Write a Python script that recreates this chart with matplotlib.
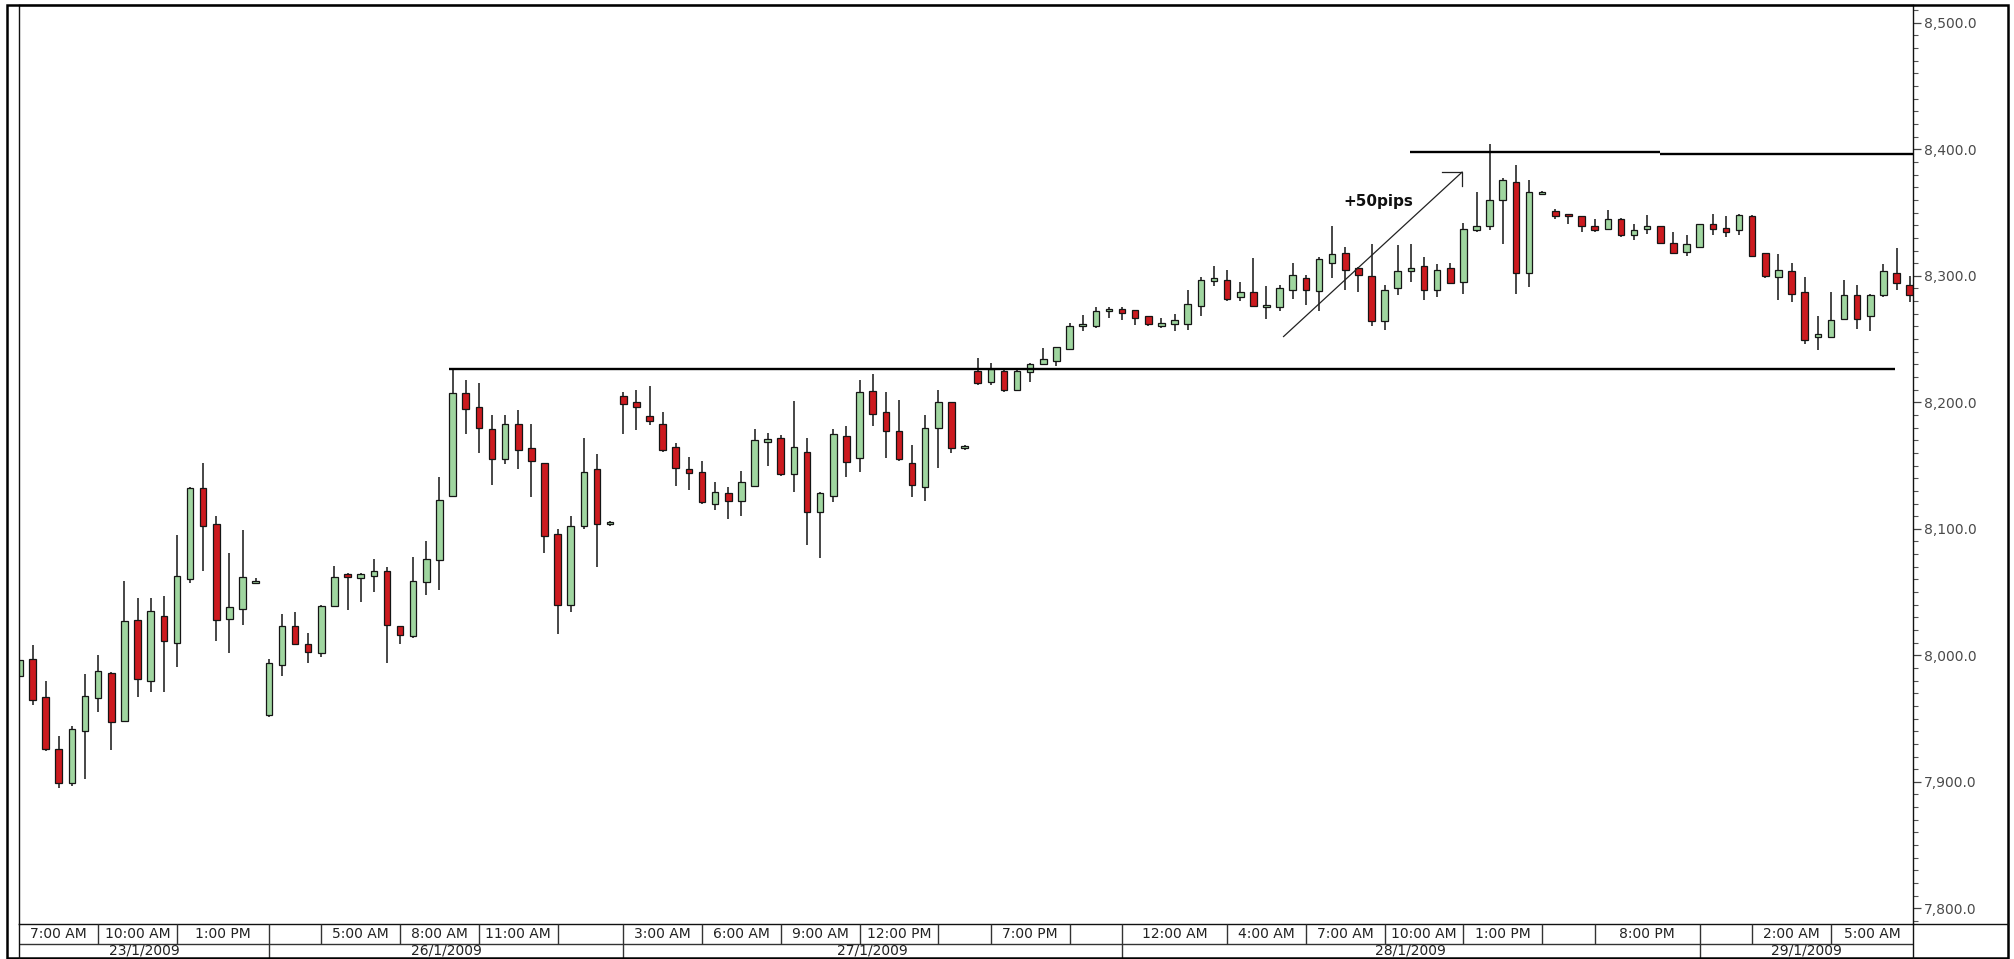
import matplotlib
matplotlib.use("Agg")
import matplotlib.pyplot as plt
from matplotlib.lines import Line2D
from matplotlib.patches import Rectangle
from matplotlib.ticker import MultipleLocator, FuncFormatter

# ---------------- data (30-minute candles) ----------------
opens = [7984, 7997, 7967, 7926, 7899, 7940, 7966, 7986, 7948, 8028,
         7980, 8031, 8010, 8060, 8132, 8104, 8029, 8037, 8057, 7953,
         7992, 8023, 8009, 8002, 8039, 8064, 8061, 8063, 8067, 8023,
         8015, 8058, 8075, 8126, 8207, 8196, 8179, 8155, 8183, 8164,
         8152, 8096, 8040, 8102, 8147, 8104, 8205, 8200, 8189, 8183,
         8165, 8147, 8145, 8120, 8128, 8122, 8134, 8169, 8172, 8143,
         8161, 8113, 8126, 8173, 8156, 8209, 8192, 8177, 8152, 8133,
         8180, 8200, 8164, 8225, 8216, 8225, 8210, 8224, 8230, 8233,
         8242, 8260, 8260, 8272, 8274, 8273, 8268, 8260, 8262, 8262,
         8276, 8296, 8297, 8283, 8287, 8275, 8275, 8289, 8298, 8288,
         8310, 8318, 8306, 8300, 8264, 8290, 8304, 8308, 8289, 8306,
         8295, 8336, 8339, 8360, 8374, 8302, 8365, 8351, 8348, 8347,
         8339, 8337, 8345, 8332, 8337, 8339, 8326, 8319, 8323, 8341,
         8338, 8336, 8347, 8318, 8299, 8304, 8287, 8252, 8252, 8266,
         8285, 8268, 8285, 8302, 8293]
highs = [8008, 8008, 7980, 7936, 7944, 7985, 8000, 7987, 8059, 8045,
         8045, 8047, 8095, 8133, 8152, 8110, 8081, 8099, 8061, 7997,
         8033, 8034, 8018, 8040, 8071, 8065, 8065, 8076, 8070, 8023,
         8078, 8090, 8141, 8227, 8218, 8215, 8190, 8190, 8194, 8183,
         8152, 8100, 8110, 8172, 8159, 8106, 8208, 8210, 8213, 8192,
         8168, 8157, 8154, 8137, 8133, 8146, 8179, 8176, 8174, 8201,
         8172, 8129, 8179, 8181, 8218, 8222, 8208, 8202, 8166, 8190,
         8210, 8200, 8166, 8235, 8231, 8226, 8226, 8231, 8243, 8244,
         8263, 8269, 8275, 8275, 8275, 8273, 8268, 8267, 8270, 8289,
         8299, 8308, 8305, 8295, 8314, 8292, 8293, 8310, 8301, 8315,
         8339, 8323, 8307, 8325, 8293, 8324, 8325, 8315, 8309, 8310,
         8342, 8366, 8404, 8377, 8388, 8376, 8367, 8353, 8349, 8347,
         8345, 8352, 8346, 8341, 8348, 8339, 8335, 8332, 8341, 8349,
         8347, 8349, 8348, 8318, 8317, 8310, 8299, 8268, 8287, 8297,
         8293, 8286, 8309, 8322, 8300]
lows = [7975, 7961, 7924, 7895, 7897, 7902, 7955, 7925, 7947, 7967,
        7971, 7971, 7991, 8057, 8067, 8011, 8002, 8024, 8057, 7951,
        7984, 8008, 7994, 7999, 8038, 8036, 8042, 8050, 7994, 8009,
        8014, 8048, 8052, 8125, 8175, 8160, 8135, 8151, 8147, 8125,
        8081, 8017, 8034, 8100, 8070, 8102, 8175, 8178, 8182, 8161,
        8134, 8131, 8120, 8115, 8108, 8110, 8133, 8150, 8142, 8129,
        8087, 8077, 8121, 8141, 8145, 8181, 8156, 8154, 8125, 8122,
        8148, 8160, 8162, 8214, 8214, 8208, 8209, 8216, 8230, 8229,
        8241, 8256, 8259, 8267, 8265, 8261, 8260, 8259, 8256, 8257,
        8268, 8292, 8280, 8280, 8275, 8266, 8272, 8282, 8277, 8272,
        8298, 8289, 8287, 8260, 8257, 8285, 8295, 8281, 8283, 8294,
        8286, 8335, 8336, 8325, 8286, 8291, 8364, 8345, 8341, 8335,
        8335, 8336, 8331, 8328, 8333, 8325, 8317, 8316, 8323, 8332,
        8331, 8332, 8315, 8298, 8281, 8279, 8246, 8241, 8251, 8265,
        8258, 8256, 8283, 8289, 8279]
closes = [7996, 7965, 7926, 7899, 7942, 7968, 7988, 7947, 8027, 7981,
          8035, 8011, 8063, 8132, 8102, 8028, 8038, 8062, 8059, 7994,
          8023, 8009, 8003, 8039, 8062, 8062, 8064, 8067, 8024, 8016,
          8059, 8076, 8123, 8207, 8195, 8180, 8155, 8183, 8162, 8154,
          8094, 8040, 8102, 8145, 8104, 8105, 8199, 8196, 8185, 8162,
          8148, 8144, 8121, 8129, 8122, 8137, 8170, 8171, 8143, 8165,
          8113, 8128, 8175, 8153, 8208, 8191, 8177, 8155, 8135, 8180,
          8200, 8164, 8165, 8215, 8226, 8210, 8225, 8230, 8234, 8244,
          8260, 8262, 8272, 8274, 8271, 8267, 8262, 8263, 8265, 8278,
          8297, 8298, 8282, 8287, 8276, 8277, 8290, 8301, 8289, 8313,
          8317, 8305, 8301, 8264, 8289, 8304, 8306, 8289, 8305, 8294,
          8337, 8339, 8360, 8376, 8302, 8366, 8366, 8347, 8347, 8339,
          8336, 8345, 8332, 8336, 8339, 8326, 8318, 8325, 8341, 8337,
          8335, 8348, 8316, 8300, 8305, 8286, 8249, 8254, 8265, 8285,
          8266, 8285, 8304, 8294, 8285]

# time-axis cells (boundaries in candle-index units)
time_bounds = [0, 6, 12, 19, 23, 29, 35, 41, 46, 52, 58, 64, 70, 74, 80,
               84, 92, 98, 104, 110, 116, 120, 128, 132, 138, 144.25]
time_labels = ["7:00 AM", "10:00 AM", "1:00 PM", "", "5:00 AM", "8:00 AM",
               "11:00 AM", "", "3:00 AM", "6:00 AM", "9:00 AM", "12:00 PM",
               "", "7:00 PM", "", "12:00 AM", "4:00 AM", "7:00 AM",
               "10:00 AM", "1:00 PM", "", "8:00 PM", "", "2:00 AM", "5:00 AM"]
date_bounds = [0, 19, 46, 84, 128, 144.25]
date_labels = ["23/1/2009", "26/1/2009", "27/1/2009", "28/1/2009", "29/1/2009"]

support_level = 8226
support_span = (32.75, 142.9)
resistance_levels = [8398, 8396.5]
resistance_spans = [(105.9, 125.0), (125.0, 144.25)]
arrow_start = (96.3, 8252)
arrow_end = (109.9, 8382)
arrow_note = "+50pips"

# ---------------- layout ----------------
W, H = 2014, 959
fig = plt.figure(figsize=(W / 100, H / 100), dpi=100)
fig.patch.set_facecolor("white")


def fx(px):
    return px / W


def fy(py):
    return 1 - py / H


X_LEFT, X_RIGHT, X_BORDER = 19, 1913, 2008
Y_TOP, Y_PLOT_BOTTOM, Y_MID, Y_BOTTOM = 5, 924, 944, 958
XLIM = (-0.03, 144.25)

ax = fig.add_axes([fx(X_LEFT), fy(Y_PLOT_BOTTOM), fx(X_RIGHT - X_LEFT),
                   (Y_PLOT_BOTTOM - Y_TOP) / H])
ax.set_xlim(*XLIM)
ax.set_ylim(7787.6, 8514.1)

UP, DOWN, EDGE = "#a0d6a0", "#cc1a1f", "#151515"
n = len(opens)
xs = list(range(n))
ax.vlines(xs, lows, highs, color=EDGE, linewidth=1.1, zorder=1)
bottoms = [min(o, c) for o, c in zip(opens, closes)]
heights = [max(abs(c - o), 1.6) for o, c in zip(opens, closes)]
colors = [UP if c >= o else DOWN for o, c in zip(opens, closes)]
ax.bar(xs, heights, bottom=bottoms, width=0.5, color=colors,
       edgecolor=EDGE, linewidth=0.9, zorder=2)

# horizontal levels
ax.hlines(support_level, *support_span, color="black", linewidth=1.7, zorder=3)
for lvl, span in zip(resistance_levels, resistance_spans):
    ax.hlines(lvl, *span, color="black", linewidth=1.7, zorder=3)

# diagonal arrow with right-angle head
ax.plot([arrow_start[0], arrow_end[0]], [arrow_start[1], arrow_end[1]],
        color="#222222", linewidth=0.9, zorder=3)
ax.plot([arrow_end[0] - 1.55, arrow_end[0], arrow_end[0]],
        [arrow_end[1], arrow_end[1], arrow_end[1] - 11],
        color="#222222", linewidth=0.9, zorder=3)
ax.text(103.5, 8358.6, arrow_note, ha="center", va="center", fontsize=11,
        fontweight="bold", family="DejaVu Sans", color="#111111")

# axes styling
ax.set_xticks([])
ax.yaxis.tick_right()
ax.yaxis.set_major_locator(MultipleLocator(100))
ax.yaxis.set_minor_locator(MultipleLocator(10))
ax.yaxis.set_major_formatter(FuncFormatter(lambda v, p: f"{v:,.1f}"))
ax.tick_params(axis="y", which="major", length=6, width=0.9, color="#444444",
               labelsize=10, labelcolor="#4a4a4a", pad=2, direction="out")
ax.tick_params(axis="y", which="minor", length=3.5, width=0.8,
               color="#555555", direction="out")
ax.tick_params(axis="y", which="both", left=False, labelleft=False,
               right=True, labelright=True)
for side in ["left", "right", "bottom", "top"]:
    ax.spines[side].set_color("#111111")
    ax.spines[side].set_linewidth(1.0)

# ---------------- time / date rows ----------------
axb = fig.add_axes([fx(X_LEFT), fy(Y_BOTTOM + 1), fx(X_RIGHT - X_LEFT),
                    (Y_BOTTOM + 1 - Y_PLOT_BOTTOM) / H])
axb.set_xlim(*XLIM)
row_h = Y_BOTTOM + 1 - Y_PLOT_BOTTOM
mid = Y_BOTTOM + 1 - Y_MID
axb.set_ylim(0, row_h)
axb.axis("off")
axb.hlines(mid, XLIM[0], XLIM[1], color="#333333", linewidth=1.0)
axb.vlines(time_bounds[1:-1], mid, row_h, color="#333333", linewidth=1.0)
axb.vlines(date_bounds[1:-1], 0, mid, color="#333333", linewidth=1.0)
for a, b, lab in zip(time_bounds[:-1], time_bounds[1:], time_labels):
    if lab:
        axb.text((a + b) / 2, (mid + row_h) / 2, lab, ha="center",
                 va="center", fontsize=10, color="#222222",
                 family="DejaVu Sans")
for a, b, lab in zip(date_bounds[:-1], date_bounds[1:], date_labels):
    axb.text((a + b) / 2, mid / 2 + 0.5, lab, ha="center", va="center",
             fontsize=10, color="#222222", family="DejaVu Sans")

# ---------------- frame lines ----------------
fig.add_artist(Line2D([fx(X_LEFT)] * 2, [fy(Y_BOTTOM), fy(Y_PLOT_BOTTOM)],
                      color="#111111", linewidth=1.0))
fig.add_artist(Line2D([fx(X_RIGHT)] * 2, [fy(Y_BOTTOM), fy(Y_PLOT_BOTTOM)],
                      color="#111111", linewidth=1.0))
fig.add_artist(Line2D([fx(X_RIGHT), fx(X_BORDER)], [fy(Y_PLOT_BOTTOM)] * 2,
                      color="#111111", linewidth=1.0))
fig.add_artist(Rectangle((fx(7), fy(Y_BOTTOM)), fx(X_BORDER - 7),
                         (Y_BOTTOM - Y_TOP) / H, transform=fig.transFigure,
                         fill=False, edgecolor="black", linewidth=1.8))

fig.savefig("out.png", dpi=100, facecolor="white")
